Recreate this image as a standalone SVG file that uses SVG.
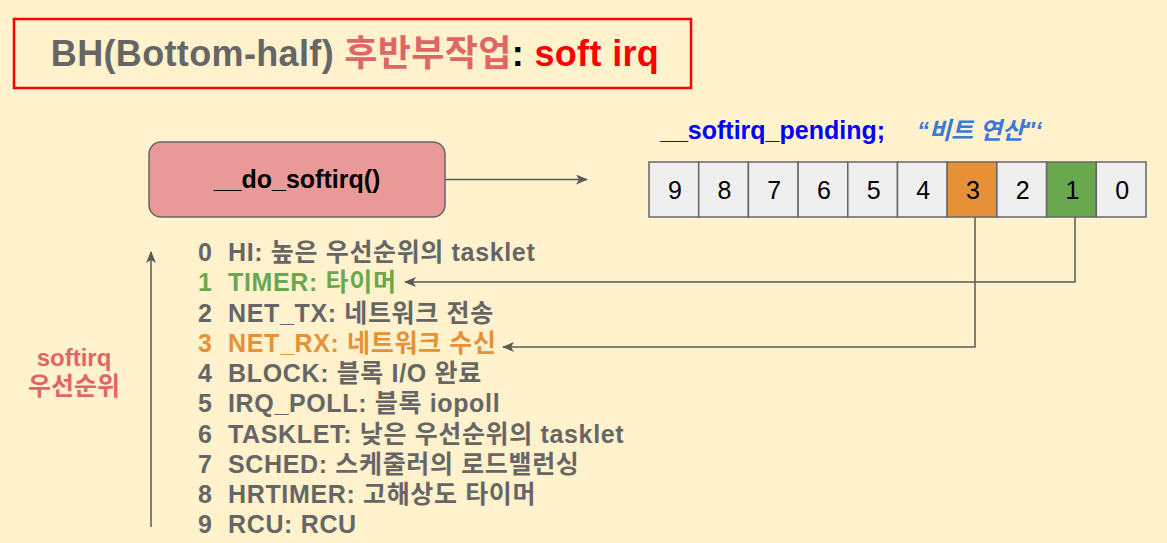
<svg xmlns="http://www.w3.org/2000/svg" width="1167" height="543" viewBox="0 0 1167 543">
<defs>
<marker id="arr" viewBox="0 0 12 10" refX="11" refY="5" markerWidth="12" markerHeight="10" markerUnits="userSpaceOnUse" orient="auto">
<path d="M0,0 L12,5 L0,10 L3,5 Z" fill="#595959"/>
</marker>
<style>
.t{font-family:"Liberation Sans","Noto Sans CJK KR",Arial,sans-serif;font-weight:bold}
.li{font-size:25px;fill:#666666;letter-spacing:0.65px}
.g{fill:#6aa84f}
.o{fill:#e69138}
.bit{fill:#efefef;stroke:#666666;stroke-width:1.5}
.bn{font-family:"Liberation Sans",Arial,sans-serif;font-size:25px;fill:#000000;text-anchor:middle}
.con{fill:none;stroke:#595959;stroke-width:1.5}
</style>
</defs>
<rect x="0" y="0" width="1167" height="543" fill="#fff2cc"/>

<g id="title">
<rect x="14" y="19" width="677" height="69" fill="none" stroke="#ff0000" stroke-width="2.5"/>
<text class="t" x="355" y="66" font-size="36" text-anchor="middle" letter-spacing="0.35"><tspan fill="#666666">BH(Bottom-half) </tspan><tspan fill="#e06666">후반부작업</tspan><tspan fill="#000000">: </tspan><tspan fill="#ff0000">soft irq</tspan></text>
</g>

<g id="do_softirq">
<rect x="149" y="142" width="296" height="75" rx="12" fill="#ea9999" stroke="#666666" stroke-width="1.5"/>
<text class="t" x="297" y="188" font-size="25" text-anchor="middle" fill="#000000">__do_softirq()</text>
</g>

<g id="pending_label">
<text class="t" x="660" y="139" font-size="25" fill="#0000ff">__softirq_pending;</text>
<text class="t" x="917" y="139" font-size="24" font-style="italic" fill="#3c78d8">“비트 연산"‘</text>
</g>

<g id="bits">
<rect class="bit" x="649" y="162" width="49.7" height="55"/>
<rect class="bit" x="698.7" y="162" width="49.7" height="55"/>
<rect class="bit" x="748.4" y="162" width="49.7" height="55"/>
<rect class="bit" x="798.1" y="162" width="49.7" height="55"/>
<rect class="bit" x="847.8" y="162" width="49.7" height="55"/>
<rect class="bit" x="897.5" y="162" width="49.7" height="55"/>
<rect class="bit" x="947.2" y="162" width="49.7" height="55" style="fill:#e69138"/>
<rect class="bit" x="996.9" y="162" width="49.7" height="55"/>
<rect class="bit" x="1046.6" y="162" width="49.7" height="55" style="fill:#6aa84f"/>
<rect class="bit" x="1096.3" y="162" width="49.7" height="55"/>
<text class="bn" x="675" y="199">9</text>
<text class="bn" x="724.5" y="199">8</text>
<text class="bn" x="774.2" y="199">7</text>
<text class="bn" x="824" y="199">6</text>
<text class="bn" x="873.6" y="199">5</text>
<text class="bn" x="923.3" y="199">4</text>
<text class="bn" x="973" y="199">3</text>
<text class="bn" x="1022.7" y="199">2</text>
<text class="bn" x="1072.4" y="199">1</text>
<text class="bn" x="1122.1" y="199">0</text>
</g>

<g id="list">
<text class="t li" x="198" y="261">0</text><text class="t li" x="228" y="261">HI: 높은 우선순위의 tasklet</text>
<text class="t li g" x="198" y="291.3">1</text><text class="t li g" x="228" y="291.3">TIMER: 타이머</text>
<text class="t li" x="198" y="321.5">2</text><text class="t li" x="228" y="321.5">NET_TX: 네트워크 전송</text>
<text class="t li o" x="198" y="351.8">3</text><text class="t li o" x="228" y="351.8">NET_RX: 네트워크 수신</text>
<text class="t li" x="198" y="382">4</text><text class="t li" x="228" y="382">BLOCK: 블록 I/O 완료</text>
<text class="t li" x="198" y="412.3">5</text><text class="t li" x="228" y="412.3">IRQ_POLL: 블록 iopoll</text>
<text class="t li" x="198" y="442.5">6</text><text class="t li" x="228" y="442.5">TASKLET: 낮은 우선순위의 tasklet</text>
<text class="t li" x="198" y="472.8">7</text><text class="t li" x="228" y="472.8">SCHED: 스케줄러의 로드밸런싱</text>
<text class="t li" x="198" y="503">8</text><text class="t li" x="228" y="503">HRTIMER: 고해상도 타이머</text>
<text class="t li" x="198" y="533.3">9</text><text class="t li" x="228" y="533.3">RCU: RCU</text>
</g>

<g id="priority_label">
<text class="t" x="74" y="366" font-size="24" text-anchor="middle" fill="#e06666">softirq</text>
<text class="t" x="74" y="395" font-size="25" text-anchor="middle" fill="#e06666">우선순위</text>
</g>

<g id="connectors">
<line class="con" x1="445" y1="179.5" x2="587" y2="179.5" marker-end="url(#arr)"/>
<path class="con" d="M1075,217 V282 H405" marker-end="url(#arr)"/>
<path class="con" d="M975,217 V347 H503" marker-end="url(#arr)"/>
<line class="con" x1="151" y1="527" x2="151" y2="252" marker-end="url(#arr)"/>
</g>
</svg>
